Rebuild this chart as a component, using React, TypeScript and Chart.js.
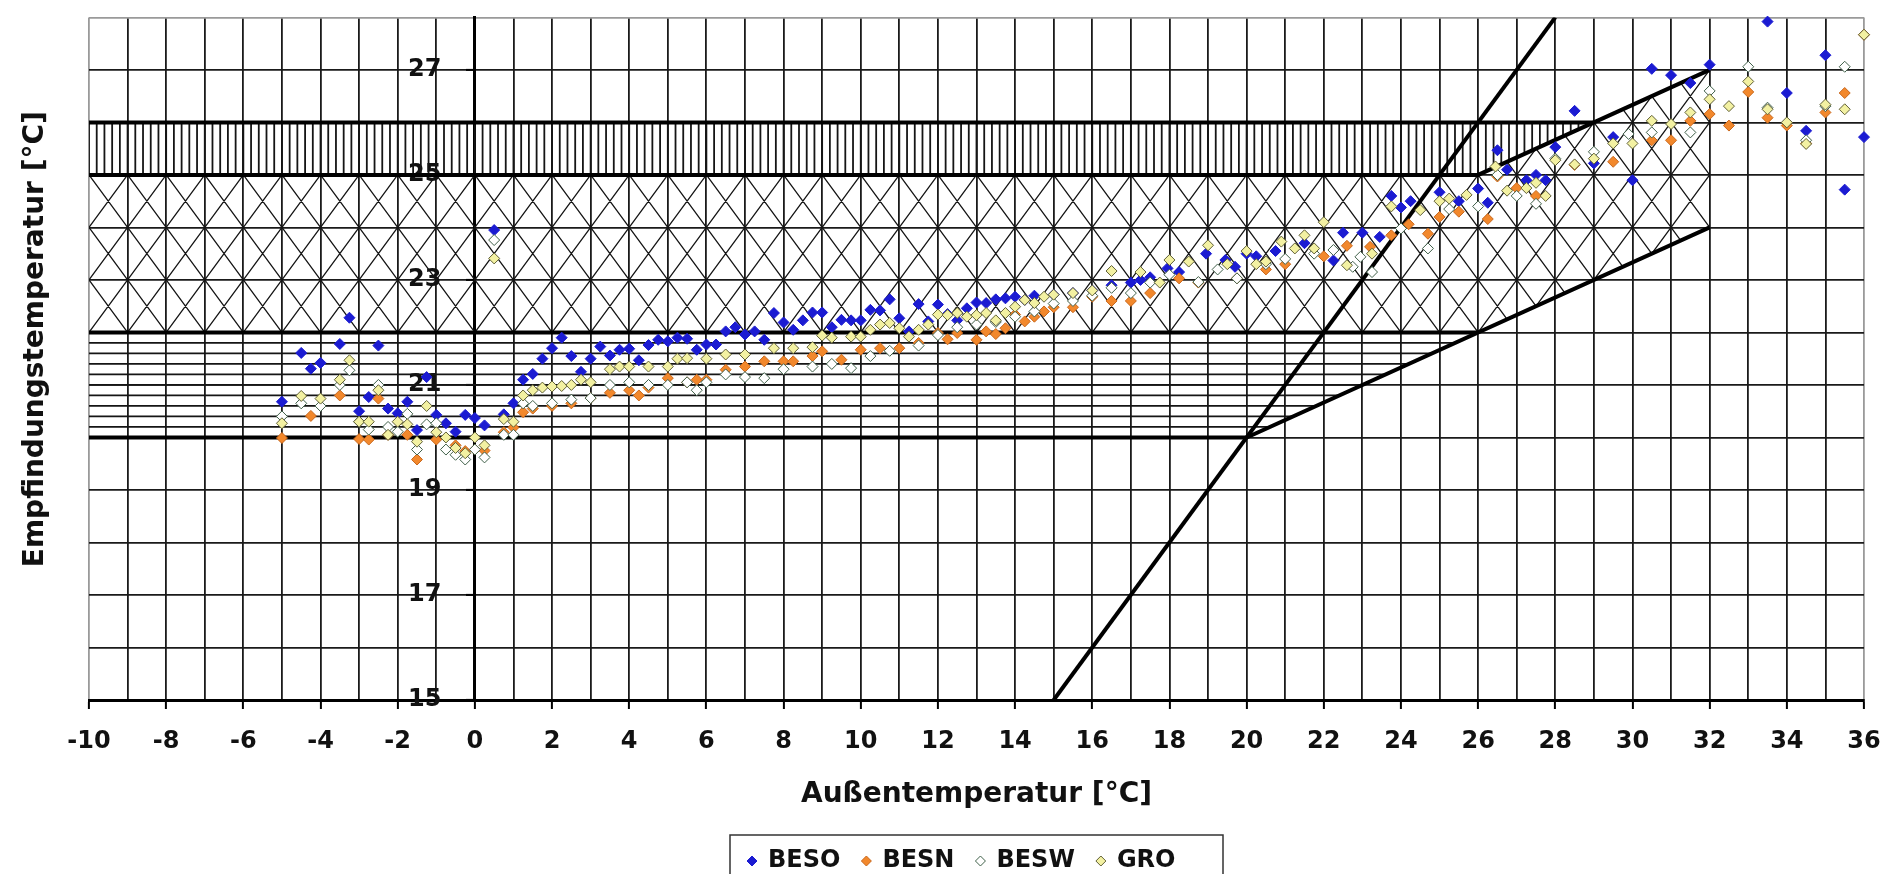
import React, { useEffect, useRef } from 'react';
import { Chart, registerables } from 'chart.js';

Chart.register(...registerables);

// ---------- axis ticks ----------
const xTickLabels = [-10, -8, -6, -4, -2, 0, 2, 4, 6, 8, 10, 12, 14, 16, 18, 20, 22, 24, 26, 28, 30, 32, 34, 36];
const yTickLabels = [15, 17, 19, 21, 23, 25, 27];

// ---------- series: [Außentemperatur, Empfindungstemperatur] ----------
const BESO: [number, number][] = [
  [-5, 20.68], [-4.5, 21.61], [-4.25, 21.31], [-4, 21.42], [-3.5, 21.78], [-3.25, 22.28], [-3, 20.5],
  [-2.75, 20.77], [-2.5, 21.75], [-2.25, 20.55], [-2, 20.46], [-1.75, 20.68], [-1.5, 20.14], [-1.25, 21.15],
  [-1, 20.43], [-0.75, 20.27], [-0.5, 20.11], [-0.25, 20.43], [0, 20.37], [0.25, 20.23], [0.5, 23.95],
  [0.75, 20.44], [1, 20.65], [1.25, 21.1], [1.5, 21.21], [1.75, 21.5], [2, 21.7], [2.25, 21.9], [2.5, 21.55],
  [2.75, 21.25], [3, 21.5], [3.25, 21.73], [3.5, 21.56], [3.75, 21.67], [4, 21.69], [4.25, 21.47], [4.5, 21.76],
  [4.75, 21.86], [5, 21.83], [5.25, 21.9], [5.5, 21.88], [5.75, 21.67], [6, 21.77], [6.25, 21.77], [6.5, 22.02],
  [6.75, 22.1], [7, 21.96], [7.25, 22.02], [7.5, 21.86], [7.75, 22.37], [8, 22.19], [8.25, 22.05], [8.5, 22.23],
  [8.75, 22.38], [9, 22.38], [9.25, 22.1], [9.5, 22.24], [9.75, 22.23], [10, 22.23], [10.25, 22.43], [10.5, 22.42],
  [10.75, 22.63], [11, 22.27], [11.25, 22.02], [11.5, 22.54], [11.75, 22.21], [12, 22.53], [12.25, 22.35],
  [12.5, 22.23], [12.75, 22.46], [13, 22.57], [13.25, 22.56], [13.5, 22.63], [13.75, 22.65], [14, 22.68],
  [14.25, 22.62], [14.5, 22.7], [15, 22.72], [15.5, 22.75], [16, 22.8], [16.5, 22.9], [17, 22.95], [17.25, 23.0],
  [17.5, 23.05], [17.95, 23.22], [18.25, 23.15], [18.95, 23.5], [19.45, 23.38], [19.7, 23.25], [20, 23.5],
  [20.25, 23.45], [20.75, 23.55], [21.5, 23.7], [22.25, 23.37], [22.5, 23.9], [23, 23.9], [23.45, 23.82],
  [23.75, 24.6], [24, 24.38], [24.25, 24.5], [25, 24.67], [25.5, 24.5], [26, 24.74], [26.25, 24.47], [26.5, 25.47],
  [26.75, 25.1], [27.25, 24.9], [27.5, 25.0], [27.75, 24.9], [28, 25.53], [28.5, 26.22], [29, 25.22], [29.5, 25.72],
  [30, 24.9], [30.5, 27.02], [31, 26.9], [31.5, 26.75], [32, 27.1], [33.5, 27.92], [34, 26.56], [34.5, 25.84],
  [35, 27.28], [35.5, 24.72], [36, 25.72],
];

const BESN: [number, number][] = [
  [-5, 19.99], [-4.25, 20.41], [-3.5, 20.8], [-3, 19.97], [-2.75, 19.96], [-2.5, 20.74], [-2.25, 20.05],
  [-1.75, 20.05], [-1.5, 19.58], [-1, 19.96], [-0.5, 19.85], [-0.25, 19.74], [0, 19.77], [0.25, 19.75],
  [0.75, 20.1], [1, 20.19], [1.25, 20.48], [1.5, 20.55], [2, 20.6], [2.5, 20.65], [3, 20.75], [3.5, 20.85],
  [4, 20.9], [4.25, 20.8], [4.5, 20.95], [5, 21.13], [5.5, 21.05], [5.75, 21.1], [6, 21.1], [6.5, 21.29],
  [7, 21.35], [7.5, 21.45], [8, 21.45], [8.25, 21.45], [8.75, 21.55], [9, 21.64], [9.5, 21.48], [10, 21.67],
  [10.5, 21.7], [11, 21.7], [11.5, 21.8], [12, 21.99], [12.25, 21.87], [12.5, 21.99], [13, 21.86], [13.25, 22.02],
  [13.5, 21.97], [13.75, 22.08], [14, 22.34], [14.25, 22.21], [14.5, 22.3], [14.75, 22.4], [15, 22.48],
  [15.5, 22.48], [16, 22.68], [16.5, 22.6], [17, 22.6], [17.5, 22.75], [18.25, 23.03], [18.75, 22.95],
  [19.75, 23.03], [20.5, 23.2], [21, 23.3], [22, 23.45], [22.6, 23.65], [23.2, 23.63], [23.75, 23.85],
  [24.2, 24.06], [24.7, 23.88], [25, 24.2], [25.5, 24.3], [26.25, 24.16], [26.5, 24.97], [27, 24.75],
  [27.5, 24.6], [28.5, 25.19], [29.5, 25.25], [30.5, 25.66], [31, 25.66], [31.5, 26.03], [32, 26.16],
  [32.5, 25.94], [33, 26.58], [33.5, 26.09], [34, 25.94], [34.5, 25.6], [35, 26.19], [35.5, 26.56], [36, 27.67],
];

const BESW: [number, number][] = [
  [-5, 20.4], [-4.5, 20.65], [-4, 20.6], [-3.5, 21.0], [-3.25, 21.28], [-3, 20.3], [-2.75, 20.15], [-2.5, 21.0],
  [-2.25, 20.2], [-2, 20.11], [-1.75, 20.45], [-1.5, 19.77], [-1.25, 20.25], [-1, 20.27], [-0.75, 19.77],
  [-0.5, 19.67], [-0.25, 19.58], [0, 19.77], [0.25, 19.62], [0.5, 23.76], [0.75, 20.05], [1, 20.05],
  [1.25, 20.65], [1.5, 20.6], [2, 20.65], [2.5, 20.72], [3, 20.75], [3.5, 21.0], [4, 21.05], [4.5, 21.0],
  [5, 21.0], [5.5, 21.05], [5.75, 20.9], [6, 21.05], [6.5, 21.2], [7, 21.15], [7.5, 21.13], [8, 21.3],
  [8.75, 21.35], [9.25, 21.4], [9.75, 21.32], [10.25, 21.55], [10.75, 21.65], [11.5, 21.75], [12, 21.95],
  [12.5, 22.1], [13, 22.15], [13.5, 22.2], [14, 22.3], [14.5, 22.4], [15, 22.55], [15.5, 22.6], [16, 22.7],
  [16.5, 22.85], [17, 22.75], [17.5, 22.95], [18, 23.1], [18.75, 22.96], [19.25, 23.2], [19.75, 23.03],
  [20.5, 23.3], [21, 23.4], [21.75, 23.5], [22.25, 23.57], [22.75, 23.25], [22.95, 23.44], [23.25, 23.15],
  [24, 23.98], [24.7, 23.6], [25.25, 24.35], [26, 24.4], [26.5, 25.0], [27, 24.6], [27.5, 24.45], [28, 25.31],
  [29, 25.44], [29.9, 25.78], [30.5, 25.81], [31.5, 25.81], [32, 26.6], [33, 27.06], [33.5, 26.28],
  [34.5, 25.66], [35, 26.31], [35.5, 27.06],
];

const GRO: [number, number][] = [
  [-5, 20.27], [-4.5, 20.79], [-4, 20.74], [-3.5, 21.1], [-3.25, 21.47], [-3, 20.3], [-2.75, 20.3], [-2.5, 20.9],
  [-2.25, 20.05], [-2, 20.3], [-1.75, 20.25], [-1.5, 19.92], [-1.25, 20.6], [-1, 20.1], [-0.75, 20.0],
  [-0.5, 19.8], [-0.25, 19.7], [0, 20.0], [0.25, 19.85], [0.5, 23.41], [0.75, 20.35], [1, 20.3], [1.25, 20.8],
  [1.5, 20.9], [1.75, 20.95], [2, 20.97], [2.25, 20.98], [2.5, 21.0], [2.75, 21.1], [3, 21.05], [3.5, 21.3],
  [3.75, 21.35], [4, 21.35], [4.5, 21.35], [5, 21.35], [5.25, 21.5], [5.5, 21.51], [6, 21.5], [6.5, 21.58],
  [7, 21.58], [7.75, 21.7], [8.25, 21.7], [8.75, 21.72], [9, 21.94], [9.25, 21.9], [9.75, 21.92], [10, 21.92],
  [10.25, 22.05], [10.5, 22.15], [10.75, 22.18], [11, 22.08], [11.25, 21.92], [11.5, 22.05], [11.75, 22.15],
  [12, 22.34], [12.25, 22.33], [12.5, 22.37], [12.75, 22.3], [13, 22.33], [13.25, 22.37], [13.5, 22.23],
  [13.75, 22.37], [14, 22.49], [14.25, 22.62], [14.5, 22.56], [14.75, 22.68], [15, 22.72], [15.5, 22.75],
  [16, 22.8], [16.5, 23.17], [17.25, 23.15], [17.75, 22.95], [18, 23.38], [18.5, 23.35], [19, 23.66],
  [19.5, 23.3], [20, 23.55], [20.25, 23.3], [20.5, 23.35], [20.9, 23.73], [21.25, 23.6], [21.5, 23.85],
  [21.75, 23.6], [22, 24.1], [22.6, 23.28], [23.25, 23.5], [23.75, 24.4], [24.5, 24.33], [25, 24.5],
  [25.25, 24.55], [25.7, 24.62], [26.45, 25.16], [26.75, 24.7], [27.25, 24.75], [27.5, 24.85], [27.75, 24.6],
  [28, 25.28], [28.5, 25.2], [29, 25.31], [29.5, 25.6], [30, 25.6], [30.5, 26.03], [31, 25.97], [31.5, 26.19],
  [32, 26.44], [32.5, 26.31], [33, 26.78], [33.5, 26.25], [34, 26.0], [34.5, 25.59], [35, 26.34], [35.5, 26.25],
  [36, 27.67],
];

// ---------- comfort-zone boundary lines (data units) ----------
const LOWER_LIMIT: [number, number][] = [[-10, 20], [20, 20], [32, 24]];
const LINE_22: [number, number][] = [[-10, 22], [26, 22]];
const UPPER_LIMIT: [number, number][] = [[-10, 25], [26, 25], [32, 27]];
const LINE_26: [number, number][] = [[-10, 26], [29, 26]];
const DIAGONAL: [number, number][] = [[15, 15], [28, 28]];

// ---------- hatched zones (data units) ----------
const ZONE_HORIZONTAL: [number, number][] = [[-10, 20], [20, 20], [26, 22], [-10, 22]];
const ZONE_CROSS: [number, number][] = [[-10, 22], [26, 22], [32, 24], [32, 27], [26, 25], [-10, 25]];
const ZONE_VERTICAL: [number, number][] = [[-10, 25], [26, 25], [29, 26], [-10, 26]];

const FONT = '"DejaVu Sans", Verdana, sans-serif';

const toXY = (arr: [number, number][]) => arr.map(([x, y]) => ({ x, y }));

const hatchPlugin = {
  id: 'hatchZones',
  beforeDatasetsDraw(chart: any) {
    const { ctx, scales } = chart;
    const xs = scales.x;
    const ys = scales.y;
    const px = (v: number) => xs.getPixelForValue(v);
    const py = (v: number) => ys.getPixelForValue(v);
    const clip = (poly: [number, number][]) => {
      ctx.beginPath();
      poly.forEach(([a, b], i) => (i ? ctx.lineTo(px(a), py(b)) : ctx.moveTo(px(a), py(b))));
      ctx.closePath();
      ctx.clip();
    };
    ctx.save();
    ctx.strokeStyle = '#151515';
    ctx.lineWidth = 1.8;

    // horizontal hatch 20..22
    ctx.save();
    clip(ZONE_HORIZONTAL);
    ctx.beginPath();
    for (let k = 1; k < 10; k++) {
      const v = 20 + k * 0.2;
      ctx.moveTo(px(-10), py(v));
      ctx.lineTo(px(36), py(v));
    }
    ctx.stroke();
    ctx.restore();

    // vertical hatch 25..26
    ctx.save();
    clip(ZONE_VERTICAL);
    ctx.beginPath();
    for (let k = 0; k <= 200; k++) {
      const v = -10 + k * 0.2;
      ctx.moveTo(px(v), py(25));
      ctx.lineTo(px(v), py(26));
    }
    ctx.stroke();
    ctx.restore();

    // cross hatch
    ctx.save();
    clip(ZONE_CROSS);
    ctx.lineWidth = 1.3;
    ctx.beginPath();
    for (let i = -10; i < 32; i++) {
      for (let j = 22; j < 27; j++) {
        ctx.moveTo(px(i), py(j));
        ctx.lineTo(px(i + 1), py(j + 1));
        ctx.moveTo(px(i), py(j + 1));
        ctx.lineTo(px(i + 1), py(j));
      }
    }
    ctx.stroke();
    ctx.restore();

    ctx.restore();
  },
};

const boxLegendPlugin = {
  id: 'boxLegend',
  afterDraw(chart: any) {
    const { ctx } = chart;
    const items = chart.data.datasets.filter((d: any) => d.type === 'scatter');
    const boxLeft = 730;
    const boxTop = 835;
    const boxW = 493;
    const boxH = 60;
    ctx.save();
    ctx.strokeStyle = '#333';
    ctx.lineWidth = 1.5;
    ctx.strokeRect(boxLeft, boxTop, boxW, boxH);
    ctx.font = `bold 24px ${FONT}`;
    ctx.textBaseline = 'middle';
    ctx.textAlign = 'left';
    const cy = 861;
    let cx = boxLeft + 22;
    items.forEach((d: any) => {
      const r = 5;
      ctx.beginPath();
      ctx.moveTo(cx, cy - r);
      ctx.lineTo(cx + r, cy);
      ctx.lineTo(cx, cy + r);
      ctx.lineTo(cx - r, cy);
      ctx.closePath();
      ctx.fillStyle = d.backgroundColor;
      ctx.fill();
      ctx.strokeStyle = d.borderColor;
      ctx.lineWidth = 1;
      ctx.stroke();
      ctx.fillStyle = '#111';
      const tx = cx + 16;
      ctx.fillText(d.label, tx, cy);
      cx = tx + ctx.measureText(d.label).width + 26;
    });
    ctx.restore();
  },
};

export default function App() {
  const ref = useRef<HTMLCanvasElement | null>(null);

  useEffect(() => {
    document.body.style.margin = '0';
    if (!ref.current) return;

    const pointSet = (label: string, data: [number, number][], bg: string, border: string, order: number) => ({
      type: 'scatter' as const,
      label,
      data: toXY(data),
      backgroundColor: bg,
      borderColor: border,
      borderWidth: 1,
      pointStyle: 'rectRot',
      pointRadius: 5.5,
      clip: false as any,
      order,
    });

    const lineSet = (label: string, data: [number, number][]) => ({
      type: 'line' as const,
      label,
      data: toXY(data),
      borderColor: '#000',
      borderWidth: 4,
      pointRadius: 0,
      fill: false,
      tension: 0,
      order: 10,
    });

    const chart = new Chart(ref.current, {
      data: {
        datasets: [
          pointSet('BESO', BESO, '#1b1bd2', '#1b1bd2', 3),
          pointSet('BESN', BESN, '#f2882c', '#c8671c', 2),
          pointSet('BESW', BESW, '#ffffff', '#3f5f48', 1),
          pointSet('GRO', GRO, '#f3f1a2', '#5f5f36', 0),
          lineSet('lower', LOWER_LIMIT),
          lineSet('l22', LINE_22),
          lineSet('upper', UPPER_LIMIT),
          lineSet('l26', LINE_26),
          lineSet('diag', DIAGONAL),
        ] as any,
      },
      options: {
        animation: false,
        responsive: true,
        maintainAspectRatio: false,
        events: [],
        layout: { padding: { top: 12, right: 35, left: 0, bottom: 0 } },
        plugins: {
          legend: { display: false },
          tooltip: { enabled: false },
        },
        scales: {
          x: {
            type: 'linear',
            min: -10,
            max: 36,
            position: 'bottom',
            afterFit: (s: any) => {
              s.height = 174;
            },
            ticks: {
              stepSize: 1,
              autoSkip: false,
              maxRotation: 0,
              minRotation: 0,
              padding: 18,
              color: '#111',
              font: { family: FONT, size: 24, weight: 'bold' },
              callback: (v: any) => (xTickLabels.includes(Number(v)) ? String(v) : ''),
            },
            grid: {
              color: (c: any) => (c.tick && (c.tick.value === -10 || c.tick.value === 36) ? '#9a9a9a' : '#1a1a1a'),
              lineWidth: 1.8,
              tickLength: 9,
              tickWidth: 2,
              tickColor: (c: any) => (c.tick && xTickLabels.includes(c.tick.value) ? '#000' : 'rgba(0,0,0,0)'),
            },
            border: { display: true, color: '#000', width: 3 },
            title: {
              display: true,
              text: 'Außentemperatur [°C]',
              color: '#111',
              font: { family: FONT, size: 28, weight: 'bold' },
              padding: { top: 0, bottom: 62 },
            },
          },
          yTitle: {
            type: 'linear',
            position: 'left',
            min: 15,
            max: 28,
            afterFit: (s: any) => {
              s.width = 89;
            },
            ticks: { display: false },
            grid: { display: false },
            border: { display: false },
            title: {
              display: true,
              text: '    Empfindungstemperatur [°C]',
              color: '#111',
              font: { family: FONT, size: 28, weight: 'bold' },
              padding: { top: 19, bottom: 0 },
            },
          },
          y: {
            type: 'linear',
            min: 15,
            max: 28,
            position: { x: 0 } as any,
            ticks: {
              stepSize: 1,
              autoSkip: false,
              color: '#111',
              font: { family: FONT, size: 24, weight: 'bold' },
              callback: (v: any) => (yTickLabels.includes(Number(v)) ? `${v}    ` : ''),
            },
            grid: {
              color: (c: any) => (c.tick && c.tick.value === 28 ? '#9a9a9a' : '#1a1a1a'),
              lineWidth: 1.8,
              tickLength: 7,
              tickWidth: 2,
              tickColor: (c: any) => (c.tick && yTickLabels.includes(c.tick.value) ? '#000' : 'rgba(0,0,0,0)'),
            },
            border: { display: true, color: '#000', width: 3 },
          },
        },
      } as any,
      plugins: [hatchPlugin, boxLegendPlugin],
    });

    return () => chart.destroy();
  }, []);

  return (
    <div style={{ width: 1899, height: 874, position: 'relative', overflow: 'hidden', background: '#fff' }}>
      <canvas ref={ref} />
    </div>
  );
}
